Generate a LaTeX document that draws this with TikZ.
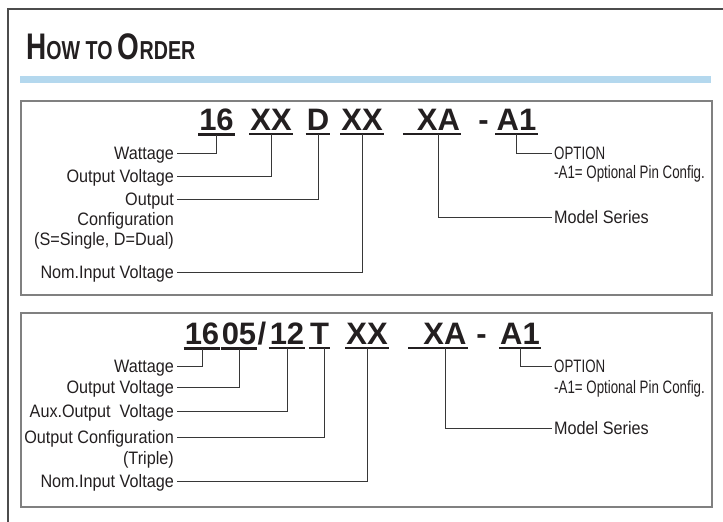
\documentclass[tikz,border=0pt]{standalone}
\usepackage{fontspec}
\setmainfont{Liberation Sans}
\newfontfamily\lblfont[FakeStretch=0.9]{Liberation Sans}
\newfontfamily\pinfont[FakeStretch=0.74]{Liberation Sans}
\newfontfamily\ttlfont[FakeStretch=0.755]{Liberation Sans Bold}
\usetikzlibrary{positioning}
\definecolor{barblue}{RGB}{180,216,238}
\definecolor{framegray}{RGB}{128,128,128}
\definecolor{leadgray}{RGB}{55,55,55}
\definecolor{ink}{RGB}{35,31,32}
\tikzset
{
    codepart/.style  = {font=\bfseries\fontsize{31}{31}\selectfont, text=ink, anchor=base, inner xsep=1pt, inner ysep=4pt},
    fieldlbl/.style  = {font=\lblfont\fontsize{18}{19.5}\selectfont, text=ink, text height=12.5pt, text depth=0pt, inner xsep=3pt, inner ysep=0pt, anchor=east},
    fieldcont/.style = {font=\lblfont\fontsize{18}{19.5}\selectfont, text=ink, align=right, inner sep=0pt, anchor=north east},
    optlbl/.style    = {fieldlbl, anchor=west, inner xsep=2pt},
    pinlbl/.style    = {optlbl, font=\pinfont\fontsize{18}{19.5}\selectfont},
    uline/.style     = {line width=2.2pt, draw=ink},
    leader/.style    = {line width=1pt, draw=leadgray},
    panel/.style     = {draw=framegray, line width=1.5pt}
}

\begin{document}
\begin{tikzpicture}[x=1pt, y=-1pt]
	 \newcommand\LX{177}
	 \newcommand\RX{552}
	 \useasboundingbox (0,0) rectangle (723,522);

	 % frame, heading, panels
	 \draw[line width=2pt, draw=black!70] (723,9) -- (8,9) -- (8,522);
	 \node (title) [font=\ttlfont\fontsize{37}{37}\selectfont, text=ink, anchor=base west, inner sep=0pt] at (26,59)
	       {H{\fontsize{26}{26}\selectfont OW TO }O{\fontsize{26}{26}\selectfont RDER}};
	 \fill[barblue] (20,76) rectangle (711,83);
	 \draw[panel] (21,101) rectangle (712,295);
	 \draw[panel] (21,313) rectangle (712,507);

	 % dual output code
	 \node (a16)   [codepart] at (216.5,130) {16};
	 \node (axx)   [codepart] at (271,130)   {XX};
	 \node (ad)    [codepart] at (318,130)   {D};
	 \node (axxb)  [codepart] at (362,130)   {XX};
	 \node (axa)   [codepart] at (438.5,130) {XA};
	 \node (adash) [codepart] at (483.5,130) {-};
	 \node (aa1)   [codepart] at (516.5,130) {A1};

	 \node (awat)  [fieldlbl]  at (\LX,153) {Wattage};
	 \node (aout)  [fieldlbl]  at (\LX,176) {Output Voltage};
	 \node (acfg)  [fieldlbl]  at (\LX,199) {Output};
	 \node (acfgb) [fieldcont] at ([xshift=-3pt, yshift=-7pt]acfg.south east) {Configuration\\(S=Single, D=Dual)};
	 \node (anom)  [fieldlbl]  at (\LX,272) {Nom.Input Voltage};
	 \node (aopt)  [pinlbl]    at (\RX,153) {OPTION};
	 \node (apin)  [pinlbl]    at (\RX,172) {-A1= Optional Pin Config.};
	 \node (ams)   [optlbl]    at (\RX,217) {Model Series};

	 % triple output code
	 \node (b16)   [codepart] at (202,344)   {16};
	 \node (b05)   [codepart] at (239,344)   {05};
	 \node (bsl)   [codepart] at (262,344)   {/};
	 \node (b12)   [codepart] at (287,344)   {12};
	 \node (bt)    [codepart] at (319.5,344) {T};
	 \node (bxx)   [codepart] at (367,344)   {XX};
	 \node (bxa)   [codepart] at (445,344)   {XA};
	 \node (bdash) [codepart] at (481.5,344) {-};
	 \node (ba1)   [codepart] at (520,344)   {A1};

	 \node (bwat)  [fieldlbl]  at (\LX,366) {Wattage};
	 \node (bout)  [fieldlbl]  at (\LX,387) {Output Voltage};
	 \node (baux)  [fieldlbl]  at (\LX,411) {Aux.Output~ Voltage};
	 \node (bcfg)  [fieldlbl]  at (\LX,437) {Output Configuration};
	 \node (bcfgb) [fieldcont] at ([xshift=-3pt, yshift=-8pt]bcfg.south east) {(Triple)};
	 \node (bnom)  [fieldlbl]  at (\LX,481) {Nom.Input Voltage};
	 \node (bopt)  [pinlbl]    at (\RX,366) {OPTION};
	 \node (bpin)  [pinlbl]    at (\RX,387) {-A1= Optional Pin Config.};
	 \node (bms)   [optlbl]    at (\RX,428) {Model Series};

	 % underlines
	 \foreach \n in {a16,axx,ad,axxb,aa1,b16,b05,b12,bt,bxx,ba1}
	    \draw[uline] (\n.south west) -- (\n.south east);
	 \draw[uline] ([xshift=-13pt]axa.south west) -- (axa.south east);
	 \draw[uline] ([xshift=-14pt]bxa.south west) -- (bxa.south east);

	 % leaders
	 \draw[leader] (awat.east) -| (a16.south);
	 \draw[leader] (aout.east) -| (axx.south);
	 \draw[leader] (acfg.east) -| (ad.south);
	 \draw[leader] (anom.east) -| (axxb.south);
	 \draw[leader] (aa1.south) |- (aopt.west);
	 \draw[leader] (axa.south) |- (ams.west);

	 \draw[leader] (bwat.east) -| (b16.south);
	 \draw[leader] (bout.east) -| (b05.south);
	 \draw[leader] (baux.east) -| (b12.south);
	 \draw[leader] (bcfg.east) -| ([xshift=5pt]bt.south);
	 \draw[leader] (bnom.east) -| (bxx.south);
	 \draw[leader] (ba1.south) |- (bopt.west);
	 \draw[leader] (bxa.south) |- (bms.west);
\end{tikzpicture}
\end{document}
